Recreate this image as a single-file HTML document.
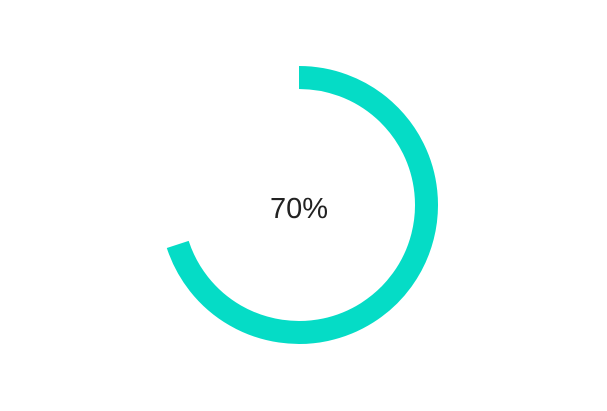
<!DOCTYPE html>
<html><head><meta charset="utf-8"><style>
html,body{margin:0;padding:0;background:#fff;width:607px;height:411px;overflow:hidden}
</style></head><body>
<svg width="607" height="411">
<path id="arc" fill="none" stroke="#05dcc6" stroke-width="23" stroke-linecap="butt"/>
<text id="lbl" x="299" y="218" text-anchor="middle" font-family="Liberation Sans, sans-serif" font-size="29" fill="#222"></text>
</svg>
<script>
const values=[70];
const total=100;
const cx=299,cy=205,r=127.5;
const frac=values[0]/total;
const a=frac*2*Math.PI;
const ex=cx+r*Math.sin(a), ey=cy-r*Math.cos(a);
const large=frac>0.5?1:0;
document.getElementById('arc').setAttribute('d',`M${cx},${cy-r} A${r},${r} 0 ${large} 1 ${ex},${ey}`);
document.getElementById('lbl').textContent=values[0]+'%';
</script>
</body></html>
